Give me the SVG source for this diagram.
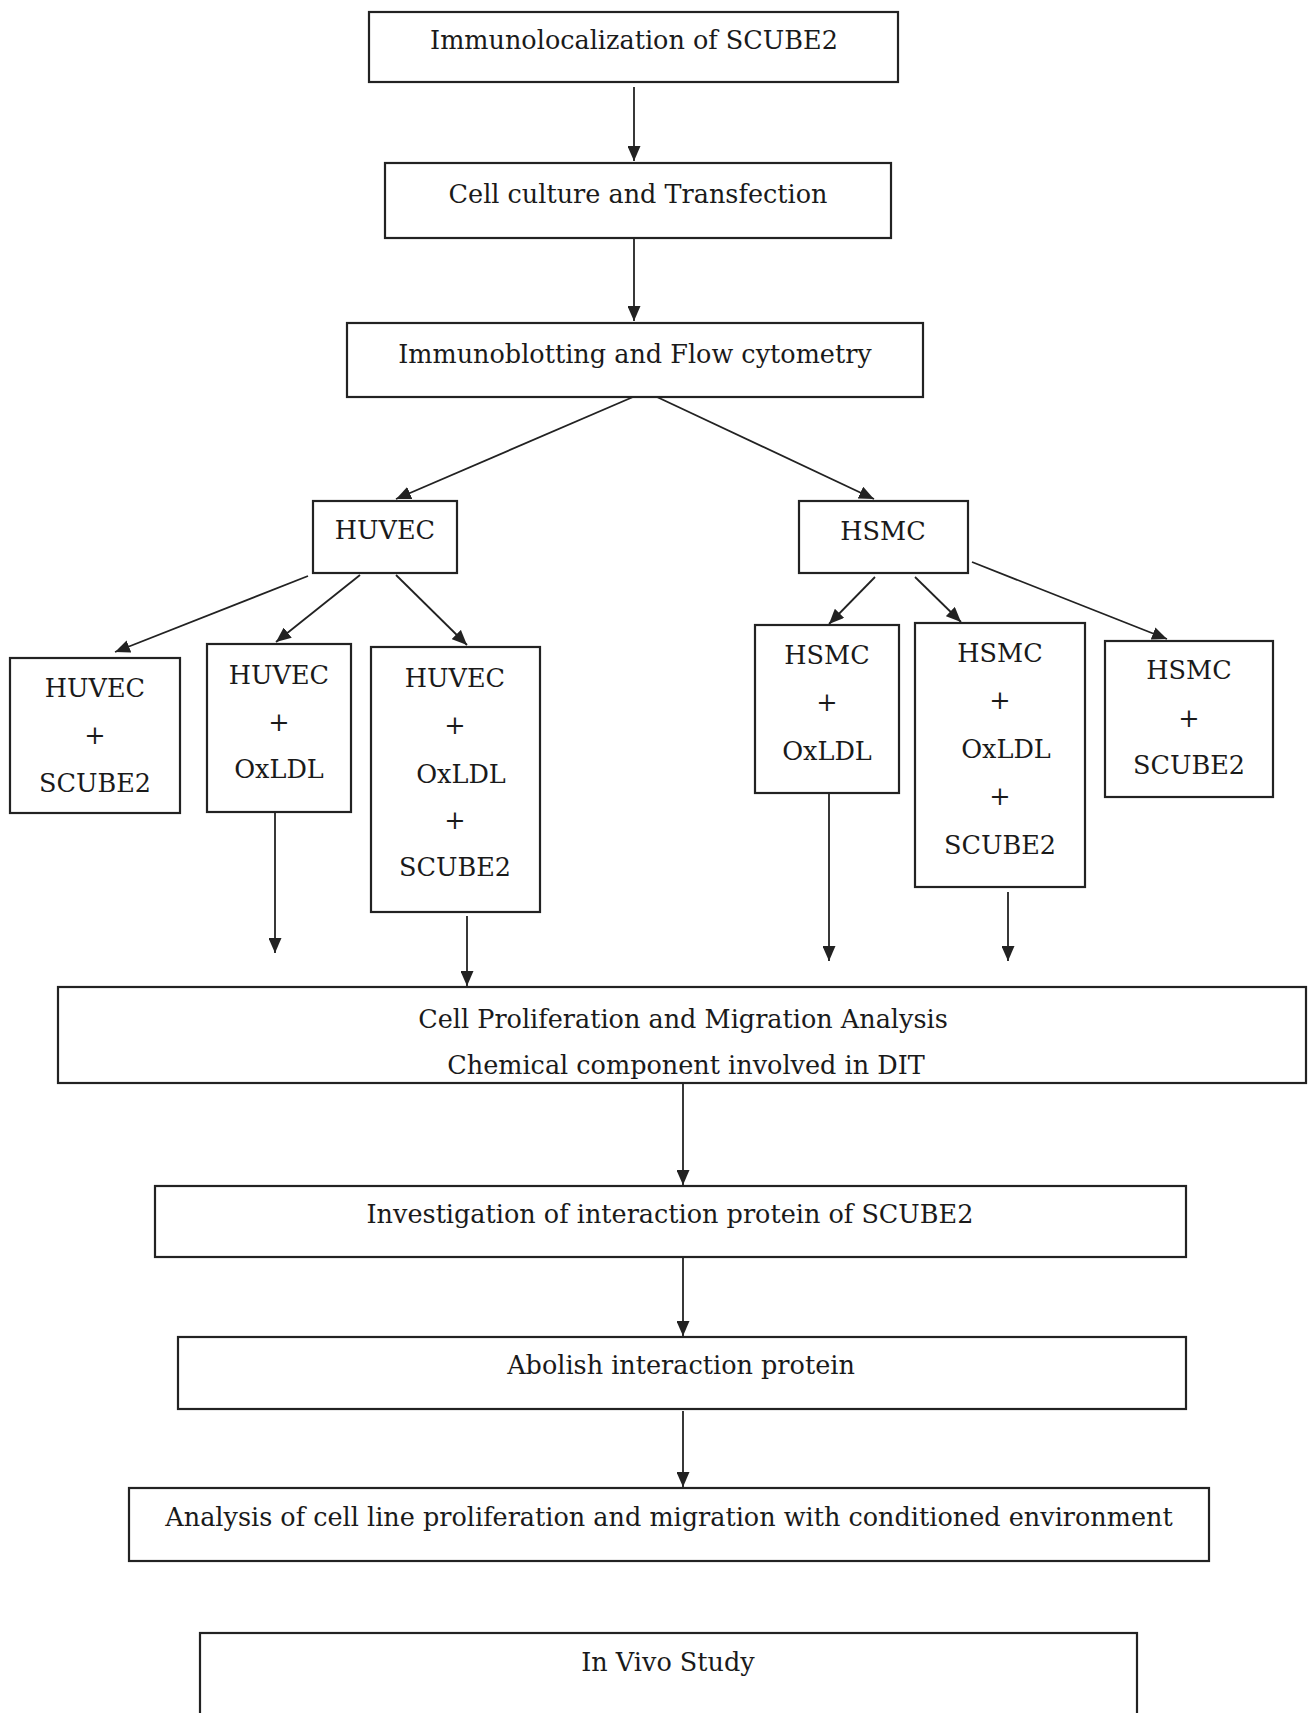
<svg xmlns="http://www.w3.org/2000/svg" width="1311" height="1713" viewBox="0 0 1311 1713">
<style>
.box{fill:none;stroke:#222;stroke-width:2.2}
.t{font-family:"DejaVu Serif","Liberation Serif",serif;font-size:25.5px;fill:#1a1a1a;text-anchor:middle}
.c{fill:none;stroke:#222;stroke-width:1.8}
</style>
<defs>
<marker id="ah" viewBox="0 0 15 13" refX="15" refY="6.5" markerWidth="15" markerHeight="13" markerUnits="userSpaceOnUse" orient="auto">
<path d="M0,0 L15,6.5 L0,13 z" fill="#222"/>
</marker>
</defs>
<rect width="1311" height="1713" fill="#fff"/>
<g id="n1"><rect class="box" x="369" y="12" width="529" height="70"/><text class="t" x="634" y="49">Immunolocalization of SCUBE2</text></g>
<g id="n2"><rect class="box" x="385" y="163" width="506" height="75"/><text class="t" x="638" y="203">Cell culture and Transfection</text></g>
<g id="n3"><rect class="box" x="347" y="323" width="576" height="74"/><text class="t" x="635" y="363">Immunoblotting and Flow cytometry</text></g>
<g id="huvec"><rect class="box" x="313" y="501" width="144" height="72"/><text class="t" x="385" y="539">HUVEC</text></g>
<g id="hsmc"><rect class="box" x="799" y="501" width="169" height="72"/><text class="t" x="883" y="540">HSMC</text></g>
<g id="huvec-scube2"><rect class="box" x="10" y="658" width="170" height="155"/>
<text class="t" x="95" y="697">HUVEC</text><text class="t" x="95" y="744">+</text><text class="t" x="95" y="792">SCUBE2</text></g>
<g id="huvec-oxldl"><rect class="box" x="207" y="644" width="144" height="168"/>
<text class="t" x="279" y="684">HUVEC</text><text class="t" x="279" y="731">+</text><text class="t" x="279" y="778">OxLDL</text></g>
<g id="huvec-oxldl-scube2"><rect class="box" x="371" y="647" width="169" height="265"/>
<text class="t" x="455" y="687">HUVEC</text><text class="t" x="455" y="734">+</text><text class="t" x="461" y="783">OxLDL</text><text class="t" x="455" y="829">+</text><text class="t" x="455" y="876">SCUBE2</text></g>
<g id="hsmc-oxldl"><rect class="box" x="755" y="625" width="144" height="168"/>
<text class="t" x="827" y="664">HSMC</text><text class="t" x="827" y="711">+</text><text class="t" x="827" y="760">OxLDL</text></g>
<g id="hsmc-oxldl-scube2"><rect class="box" x="915" y="623" width="170" height="264"/>
<text class="t" x="1000" y="662">HSMC</text><text class="t" x="1000" y="709">+</text><text class="t" x="1006" y="758">OxLDL</text><text class="t" x="1000" y="805">+</text><text class="t" x="1000" y="854">SCUBE2</text></g>
<g id="hsmc-scube2"><rect class="box" x="1105" y="641" width="168" height="156"/>
<text class="t" x="1189" y="679">HSMC</text><text class="t" x="1189" y="727">+</text><text class="t" x="1189" y="774">SCUBE2</text></g>
<g id="n-prolif"><rect class="box" x="58" y="987" width="1248" height="96"/>
<text class="t" x="683" y="1028">Cell Proliferation and Migration Analysis</text><text class="t" x="686" y="1074">Chemical component involved in DIT</text></g>
<g id="n-invest"><rect class="box" x="155" y="1186" width="1031" height="71"/><text class="t" x="670" y="1223">Investigation of interaction protein of SCUBE2</text></g>
<g id="n-abolish"><rect class="box" x="178" y="1337" width="1008" height="72"/><text class="t" x="681" y="1374">Abolish interaction protein</text></g>
<g id="n-analysis"><rect class="box" x="129" y="1488" width="1080" height="73"/><text class="t" x="669" y="1526">Analysis of cell line proliferation and migration with conditioned environment</text></g>
<g id="n-invivo"><rect class="box" x="200" y="1633" width="937" height="100"/><text class="t" x="668" y="1671">In Vivo Study</text></g>
<g id="connectors">
<line class="c" x1="634" y1="87" x2="634" y2="161" marker-end="url(#ah)"/>
<line class="c" x1="634" y1="238" x2="634" y2="321" marker-end="url(#ah)"/>
<line class="c" x1="633" y1="397" x2="396" y2="499" marker-end="url(#ah)"/>
<line class="c" x1="657" y1="397" x2="874" y2="499" marker-end="url(#ah)"/>
<line class="c" x1="308" y1="576" x2="115" y2="652" marker-end="url(#ah)"/>
<line class="c" x1="360" y1="575" x2="276" y2="642" marker-end="url(#ah)"/>
<line class="c" x1="396" y1="575" x2="467" y2="645" marker-end="url(#ah)"/>
<line class="c" x1="875" y1="577" x2="829" y2="624" marker-end="url(#ah)"/>
<line class="c" x1="915" y1="577" x2="961" y2="622" marker-end="url(#ah)"/>
<line class="c" x1="972" y1="562" x2="1167" y2="639" marker-end="url(#ah)"/>
<line class="c" x1="275" y1="812" x2="275" y2="953" marker-end="url(#ah)"/>
<line class="c" x1="467" y1="916" x2="467" y2="986" marker-end="url(#ah)"/>
<line class="c" x1="829" y1="793" x2="829" y2="961" marker-end="url(#ah)"/>
<line class="c" x1="1008" y1="892" x2="1008" y2="961" marker-end="url(#ah)"/>
<line class="c" x1="683" y1="1083" x2="683" y2="1185" marker-end="url(#ah)"/>
<line class="c" x1="683" y1="1257" x2="683" y2="1336" marker-end="url(#ah)"/>
<line class="c" x1="683" y1="1411" x2="683" y2="1487" marker-end="url(#ah)"/>
</g>
</svg>
